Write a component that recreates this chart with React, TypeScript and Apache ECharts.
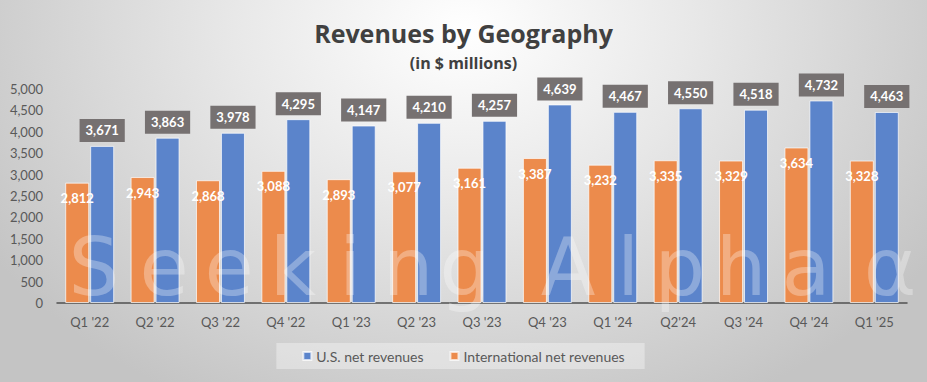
import React, { useEffect, useRef } from "react";
import * as echarts from "echarts";

const categories = ["Q1 '22", "Q2 '22", "Q3 '22", "Q4 '22", "Q1 '23", "Q2 '23", "Q3 '23", "Q4 '23", "Q1 '24", "Q2'24", "Q3 '24", "Q4 '24", "Q1 '25"];
const usRevenues = [3671, 3863, 3978, 4295, 4147, 4210, 4257, 4639, 4467, 4550, 4518, 4732, 4463];
const intlRevenues = [2812, 2943, 2868, 3088, 2893, 3077, 3161, 3387, 3232, 3335, 3329, 3634, 3328];
const usName = "U.S. net revenues";
const intlName = "International net revenues";
const watermarkLetters = ["S", "e", "e", "k", "i", "n", "g", "A", "l", "p", "h", "a", "α"];
const watermarkCenters = [94, 164, 229, 293, 350, 408, 465, 568, 628, 680, 741, 806, 890];

const fmt = (v: number) => Number(v).toLocaleString("en-US");

export default function App() {
  const ref = useRef<HTMLDivElement>(null);
  useEffect(() => {
    document.body.style.margin = "0";
    if (!ref.current) return;
    const chart = echarts.init(ref.current, null, { renderer: "svg" });
    const font = "Lato, 'Noto Sans', sans-serif";
    chart.setOption({
      animation: false,
      title: {
        text: "Revenues by Geography",
        subtext: "(in $ millions)",
        left: "center",
        top: 11,
        itemGap: 3,
        textStyle: { fontFamily: "'Open Sans', sans-serif", fontSize: 25, fontWeight: "bold", color: "#404040", lineHeight: 34 },
        subtextStyle: { fontFamily: "'Open Sans', sans-serif", fontSize: 16, fontWeight: "bold", color: "#404040", lineHeight: 20 },
      },
      legend: {
        data: [usName, intlName],
        top: 343,
        left: "center",
        backgroundColor: "rgba(255,255,255,0.35)",
        padding: [6, 20, 6, 26],
        itemWidth: 8,
        itemHeight: 8,
        itemGap: 26,
        icon: "rect",
        textStyle: { color: "#595959", fontSize: 14, fontFamily: font },
      },
      grid: { left: 57, right: 20, top: 89, bottom: 79 },
      xAxis: {
        type: "category",
        data: categories,
        axisLine: { lineStyle: { color: "#505050", width: 1.5 } },
        axisTick: { show: false },
        axisLabel: { color: "#595959", fontSize: 13, fontFamily: font, margin: 12 },
      },
      yAxis: {
        type: "value",
        min: 0,
        max: 5000,
        interval: 500,
        axisLine: { show: false },
        axisTick: { show: false },
        splitLine: { show: false },
        axisLabel: { color: "#595959", fontSize: 13, fontFamily: font, margin: 14, formatter: (v: number) => fmt(v) },
      },
      series: [
        {
          name: intlName,
          type: "bar",
          data: intlRevenues,
          barWidth: 24,
          barGap: "4%",
          itemStyle: { color: "#EC8B4C", borderColor: "rgba(255,255,255,0.7)", borderWidth: 1 },
          label: {
            show: true,
            position: "insideTop",
            distance: 9,
            color: "#ffffff",
            fontWeight: "bold",
            fontSize: 13,
            fontFamily: font,
            formatter: (p: any) => fmt(p.value),
          },
        },
        {
          name: usName,
          type: "bar",
          data: usRevenues,
          barWidth: 24,
          barGap: "4%",
          itemStyle: { color: "#5B84CB", borderColor: "rgba(255,255,255,0.7)", borderWidth: 1 },
          label: {
            show: true,
            position: "top",
            distance: 4,
            color: "#ffffff",
            fontWeight: "bold",
            fontSize: 13,
            fontFamily: font,
            backgroundColor: "#767171",
            padding: [4, 6, 4, 6],
            lineHeight: 15,
            formatter: (p: any) => fmt(p.value),
          },
        },
      ],
      graphic: watermarkLetters.map((ch, i) => ({
        type: "text",
        x: watermarkCenters[i],
        y: 267,
        z: 100,
        silent: true,
        style: {
          text: ch,
          fontSize: 80,
          fontFamily: "'DejaVu Sans', sans-serif",
          fill: "rgba(255,255,255,0.3)",
          textAlign: "center",
          textVerticalAlign: "middle",
        },
      })),
    });
    return () => chart.dispose();
  }, []);
  return (
    <div
      ref={ref}
      style={{
        width: 927,
        height: 382,
        background: "radial-gradient(ellipse at 50% 8%, #ffffff 0%, #e8e8e8 35%, #c4c4c4 85%)",
      }}
    />
  );
}
